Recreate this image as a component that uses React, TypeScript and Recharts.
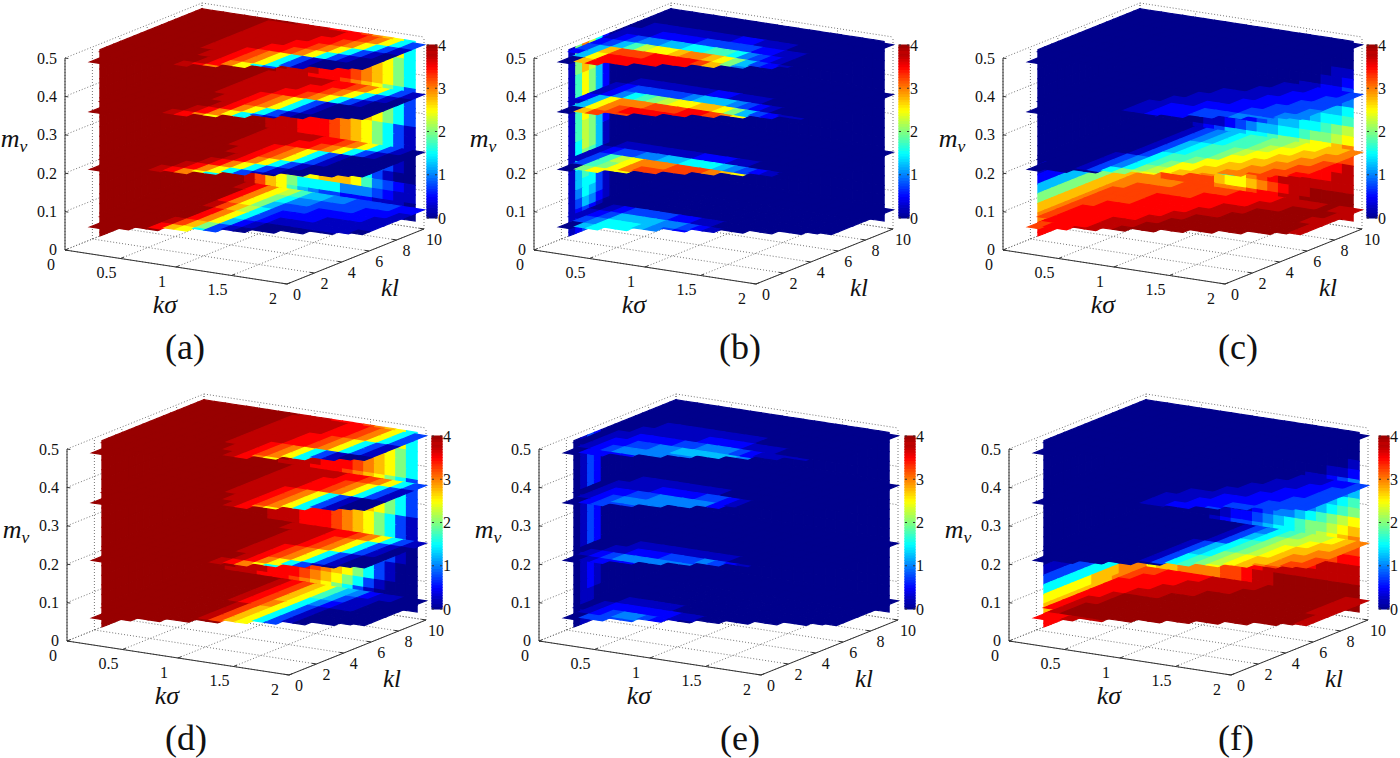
import * as React from "react";
import { ScatterChart, Scatter, XAxis, YAxis } from "recharts";

// tick labels of the three axes and the colour bar
const KSIGMA_TICKS = [0, 0.5, 1, 1.5, 2];
const KL_TICKS = [0, 2, 4, 6, 8, 10];
const MV_TICKS = [0, 0.1, 0.2, 0.3, 0.4, 0.5];
const BAR_TICKS = [0, 1, 2, 3, 4];

// mv height of the four horizontal slices
const SLICE_MV = [0.05, 0.2, 0.35, 0.48];
// first kl that has data in each kσ column (the jagged front edge of the slices)
const FRONT_KL = [2.55, 1, 1.4, 1.4, 1.9, 1.9, 2.4, 2.4, 2.9, 2.9, 3.4, 3.4, 3.9, 3.9, 4.4, 4.4, 4.9, 4.9, 5.3, 5.5];

// Values are written as one letter per cell, in steps of 0.25: 0 = 0, 4 = 1, 8 = 2, c = 3, g = 4.
// A short row repeats its last letter, a short table repeats its last row.
// Slices: first row kl 9-10, last row kl 1-2, columns kσ 0-2.
// Walls: first row mv 0.47, then down in steps of 0.025.
const CODES = "0123456789abcdefg";

const aSlice0 = ["ggggfeca975544333322", "gggggeca864433332221", "gggggeca853332222211", "gggggfdb96322221111", "ggggggeca63211111110", "ggggggeca5210", "gggggfdb8310", "gggggeba63100", "g"];
const aSlice1 = ["ggggggfffffeedca6310", "ggggggffffeedca6310", "ggggggfffedca6310", "gggggggffedca6310", "ggggggggfeca6310", "gggggggfeca6310", "ggggggfeca6310", "gggggfeca6310", "g"];
const aSlice2 = ["ggggggffffffeedca631", "ggggggfffffeedca6310", "ggggggffffeedca6310", "ggggggfffedca6310", "gggggggffedca6310", "ggggggggfeca6310", "gggggggfeca6310", "ggggggfeca6310", "g"];
const aSlice3 = ["ggggggfffffffeedca63", "ggggggffffffeedca631", "ggggggfffffeedca6310", "ggggggffffeedca6310", "ggggggfffedca6310", "gggggggffedca6310", "ggggggggfeca6310", "gggggggfeca6310", "g"];
const aLeft = ["g"];
const aBack = [
  "gggggggggfffeeedcba6", "gggggggggfffeeedcba6", "ggggggggfffeeedcba86", "ggggggggfffeeedcba86", "ggggggggfffeeedcba86",
  "gggggggfffeeedcba863", "gggggggfffeeedcba863", "gggggggfffeeedcba863", "gggggggfffeeedcba863", "ggggggfffeeedcba8631",
  "ggggggfffeeedcba8631", "ggggggfffeeedcba8631", "gggggfffeeedcba86310", "gggggfffeeedcba86310", "ggggfffeeedcba863100",
  "gggggfdb99abbba74321", "ggggfdba866664443211", "ggggfdba754332221110",
];

const bSlice0 = ["0", "0", "0", "0", "0", "012333322110", "1235555443210", "1346665432100", "00566"];
const bSlice1 = ["0", "0", "0", "0", "01111111222110", "12334455666543210", "1379acccdddcba741", "1378acdd", "008aa"];
const bSlice2 = ["0", "0", "0", "011111112211100", "12333334555432100", "1246789aabba85321", "25acccdddeedca731", "15acdeeeee", "00bdd"];
const bSlice3 = ["0", "0", "011111111221110", "11122223333322110", "12344556677643210", "23579aabccba853210", "35bdddeeeedb84210", "25aeeeeeee", "00bee"];
const bLeft = [
  "18c9620", "18b9620", "18b9520", "17a8520", "17a8520", "17a8520", "17a8520", "17a8520", "1798520",
  "1798510", "1698510", "1687510", "1687410", "1576410", "1566310", "1465310", "1354210", "123210",
];
const bBack = ["0"];

const cSlice0 = ["ccccdddddeeeeffffgff", "cddddddeeeeefffggggf", "ddddeeeeeefffgggggff", "ddddeeeeefffgggggggf", "ddeeeeeeffgggggggggf", "deeeeeeffggggggggggf", "deeeefffgggggggg", "deeeeffggg", "cdeef"];
const cSlice1 = ["000001345677889aabbc", "00000134567789aabbcc", "0000013567789aabbccd", "000001356778aabbccdd", "00000136778aabbccdde", "0000134678aabbccddee", "0000134689abbccddeee", "000013689a", "0"];
const cSlice2 = ["00000000000001112223", "00000000000011122233", "00000000001111222333", "00000000011112223334", "00000000111222233344", "000000011222333444", "00000001122233", "0", "0"];
const cSlice3 = ["0"];
const cLeft = ["0", "0", "0", "0", "0", "0", "0", "0", "0", "0", "0", "0", "1", "2", "5", "8", "b", "c", "e"];
const cBack = [
  "0", "0", "0", "00000000000000000011", "00000000000000000112", "00000000000000011223", "00000000000001112334", "00000000001112234556",
  "00000000011223445667", "00000001122345566789", "0000001123455667889a", "0000012355667889aabc", "0001235667889abbccdd",
  "0123567889aabccddeef", "23567889abbccddeeeff", "bbcccc867acdeff", "ccdddddbaabcdeffgggg", "ccdddddcccdeeffggggg", "ddeeeeeeeeefffgggggf",
];

const dSlice0 = ["gggggggfedba75421100", "gggggggfedba7531100", "gggggggfedba6421100", "gggggggfedca6310", "ggggggggfdba6310", "ggggggggfdba6310", "ggggggggfdba6310", "g", "g"];
const dSlice1 = ["ggggggggffffeedca631", "gggggggggfffedca6310", "gggggggggfffedca6310", "gggggggggffedca6310", "gggggggggffedca6310", "ggggggggggfeca6310", "gggggggggfeca6310", "g", "g"];
const dSlice2 = ["ggggggggfffffeedca63", "ggggggggffffeedca631", "ggggggggffffeedca631", "ggggggggfffedca6310", "ggggggggfffedca6310", "gggggggggffedca6310", "ggggggggggfeca6310", "g", "g"];
const dSlice3 = ["ggggggggfffffeedca63", "ggggggggfffffeedca63", "ggggggggffffeedca631", "ggggggggffffeedca631", "ggggggggfffedca6310", "gggggggggffedca6310", "ggggggggggfeca6310", "g", "g"];
const dLeft = ["g"];
const dBack = [
  "gggggggggfffeeedcba6", "gggggggggfffeeedcba6", "ggggggggfffeeedcba86", "ggggggggfffeeedcba86", "ggggggggfffeeedcba86",
  "gggggggfffeeedcba863", "gggggggfffeeedcba863", "gggggggfffeeedcba863", "gggggggfffeeedcba863", "ggggggfffeeedcba8631",
  "ggggggfffeeedcba8631", "ggggggfffeeedcba8631", "gggggfffeeedcba86310", "gggggfffeeedcba86310", "ggggfffeeedcba863100",
  "ggggfffeeedcba863100", "gggfffeeedcba8631000", "ggfffeeedcba86310000",
];

const eSlice0 = ["0", "0", "0", "0", "0", "00111110", "01222222110", "0123443210", "00333"];
const eSlice1 = ["0", "0", "0", "0", "0", "00011111111100", "00112223334321", "01234444", "00122"];
const eSlice2 = ["0", "0", "0", "0", "00111111110", "01111222233210", "01223344444210", "0123444", "00233"];
const eSlice3 = ["0", "0", "0", "0001111111110", "00111111222211100", "011222233444321", "01223344555554310", "01234444", "00222"];
const eLeft = ["01320", "01320", "01320", "01320", "01320", "01320", "01320", "01320", "01320", "01320", "01320", "01320", "01320", "01210", "01210", "01210", "01100"];
const eBack = ["0"];

const fSlice0 = ["ddeeeefffffgggggggff", "deeeefffffggggggggff", "eeeeffffggggggggggff", "eeefffgggggggggggggf", "eefggggggggggggggggf", "effggggggggggggggggf", "efggg", "efgg", "beef"];
const fSlice1 = ["00000000013467899abc", "0000000001356899abbc", "000000000136789abbcc", "000000001356789abccd", "00000000135689abbcdd", "00000000136789abcdde", "0000000013678a", "0", "0"];
const fSlice2 = ["00000000000000111223", "00000000000001112233", "00000000000011122233", "00000000000111222333", "00000000011122223333", "00000000111222333333", "00000000112223", "0", "0"];
const fSlice3 = ["0"];
const fLeft = ["0", "0", "0", "0", "0", "0", "0", "0", "0", "0", "0", "0", "0", "1", "3", "6", "aaaaaaabbbbcccc", "bbbbbbbbbbccccc", "e"];
const fBack = [
  "0", "0", "0", "00000000000000000001", "00000000000000000112", "00000000000000011234", "00000000000000112345", "00000000000001234567",
  "00000000000123445678", "0000000001234456789a", "000000012234567889ab", "00000012334566789abc", "000123456789aabbccd",
  "0123456789aabbccddee", "245689abbccddeeeff", "68abccccdeef", "abbccccddeffg", "abbccccddeffg", "cdddddddeeffg",
];

const PANELS = [
  { name: "(a)", left: 65, top: 250, bar: 362, nameX: 120, slices: [aSlice0, aSlice1, aSlice2, aSlice3], wallL: aLeft, wallB: aBack },
  { name: "(b)", left: 534, top: 250, bar: 365, nameX: 206, slices: [bSlice0, bSlice1, bSlice2, bSlice3], wallL: bLeft, wallB: bBack },
  { name: "(c)", left: 1003, top: 250, bar: 364, nameX: 235, slices: [cSlice0, cSlice1, cSlice2, cSlice3], wallL: cLeft, wallB: cBack },
  { name: "(d)", left: 67, top: 641, bar: 365, nameX: 119, slices: [dSlice0, dSlice1, dSlice2, dSlice3], wallL: dLeft, wallB: dBack },
  { name: "(e)", left: 539, top: 641, bar: 366, nameX: 201, slices: [eSlice0, eSlice1, eSlice2, eSlice3], wallL: eLeft, wallB: eBack },
  { name: "(f)", left: 1009, top: 641, bar: 370, nameX: 227, slices: [fSlice0, fSlice1, fSlice2, fSlice3], wallL: fLeft, wallB: fBack },
];

const X_MIN = -65;
const X_MAX = 395;
const Y_MIN = -250;
const Y_MAX = 120;
const SERIF = "'Liberation Serif'";

// oblique view of the box: kσ runs right and down, kl right and up, mv straight up
function project(ks: number, kl: number, mv: number) {
  return { x: 111 * ks + 13.7 * kl, y: 17 * ks - 5.5 * kl - 384 * mv };
}

function jet(v: number) {
  const t = v / 4;
  const c = (d: number) => Math.round(255 * Math.max(0, Math.min(1, 1.5 - Math.abs(4 * t - d))));
  const red = c(3) + (t > 0.95 ? 24 : 0);
  const blue = c(1) + (t < 0.05 ? 12 : 0);
  return `rgb(${red},${c(2)},${blue})`;
}

function cellAt(rows: string[], r: number, c: number) {
  const row = rows[Math.min(r, rows.length - 1)];
  return CODES.indexOf(row[Math.min(c, row.length - 1)]) / 4;
}

function quad(corners: { x: number; y: number }[], value: number) {
  const x = corners.reduce((a, p) => a + p.x, 0) / corners.length;
  const y = corners.reduce((a, p) => a + p.y, 0) / corners.length;
  return { x, y, fill: jet(value), offsets: corners.map((p) => [p.x - x, p.y - y]) };
}

function sliceCells(rows: string[], mv: number) {
  const out = [];
  for (let r = 0; r < 9; r++) {
    for (let c = 0; c < 20; c++) {
      const hi = 10 - r;
      const lo = Math.max(9 - r, FRONT_KL[c]);
      if (lo >= hi) continue;
      const s0 = c / 10;
      const s1 = (c + 1) / 10;
      out.push(quad([project(s0, lo, mv), project(s1, lo, mv), project(s1, hi, mv), project(s0, hi, mv)], cellAt(rows, r, c)));
    }
  }
  return out;
}

function leftWallCells(rows: string[]) {
  const out = [];
  for (let r = 0; r < 20; r++) {
    for (let c = 0; c < 15; c++) {
      const m1 = 0.485 - r * 0.025;
      const m0 = Math.max(0, m1 - 0.025);
      const k0 = 2.55 + c * 0.5;
      const k1 = Math.min(10, k0 + 0.5);
      out.push(quad([project(0, k0, m0), project(0, k1, m0), project(0, k1, m1), project(0, k0, m1)], cellAt(rows, r, c)));
    }
  }
  return out;
}

function backWallCells(rows: string[]) {
  const out = [];
  for (let r = 0; r < 19; r++) {
    for (let c = 0; c < 20; c++) {
      const m1 = 0.485 - r * 0.025;
      const m0 = Math.max(0.017, m1 - 0.025);
      const s0 = c * 0.096;
      const s1 = s0 + 0.096;
      out.push(quad([project(s0, 10, m0), project(s1, 10, m0), project(s1, 10, m1), project(s0, 10, m1)], cellAt(rows, r, c)));
    }
  }
  return out;
}

function seg(a: { x: number; y: number }, b: { x: number; y: number }) {
  return { x: a.x, y: a.y, dx: b.x - a.x, dy: b.y - a.y };
}

function gridSegments() {
  const out = [];
  for (const s of KSIGMA_TICKS) {
    out.push(seg(project(s, 0, 0), project(s, 10, 0)));
    out.push(seg(project(s, 10, 0), project(s, 10, 0.5)));
  }
  for (const k of KL_TICKS) {
    out.push(seg(project(0, k, 0), project(2, k, 0)));
    out.push(seg(project(0, k, 0), project(0, k, 0.5)));
  }
  for (const m of MV_TICKS) {
    out.push(seg(project(0, 0, m), project(0, 10, m)));
    out.push(seg(project(0, 10, m), project(2, 10, m)));
  }
  return out;
}

function axisSegments() {
  const out = [
    seg(project(0, 0, 0), project(0, 0, 0.5)),
    seg(project(0, 0, 0), project(2, 0, 0)),
    seg(project(2, 0, 0), project(2, 10, 0)),
  ];
  for (const m of MV_TICKS) out.push(seg(project(0, 0, m), project(0.03, 0, m)));
  for (const s of KSIGMA_TICKS) out.push(seg(project(s, 0, 0), project(s, 0.25, 0)));
  for (const k of KL_TICKS) out.push(seg(project(2, k, 0), project(1.96, k, 0)));
  return out;
}

function CellShape({ cx, cy, payload }: any) {
  const pts = payload.offsets.map((o: number[]) => `${cx + o[0]},${cy + o[1]}`).join(" ");
  return <polygon points={pts} fill={payload.fill} stroke={payload.fill} strokeWidth={1.2} />;
}

function DottedShape({ cx, cy, payload }: any) {
  return <line x1={cx} y1={cy} x2={cx + payload.dx} y2={cy + payload.dy} stroke="#666" strokeWidth={0.9} strokeDasharray="1 2" />;
}

function SolidShape({ cx, cy, payload }: any) {
  return <line x1={cx} y1={cy} x2={cx + payload.dx} y2={cy + payload.dy} stroke="#333" strokeWidth={1} />;
}

function TextShape({ cx, cy, payload }: any) {
  return (
    <text
      x={cx}
      y={cy}
      style={{ fontFamily: SERIF }}
      fontStyle={payload.italic ? "italic" : "normal"}
      fontSize={payload.size}
      fill="#111"
      textAnchor={payload.anchor || "middle"}
      dominantBaseline="central"
    >
      {payload.text}
      {payload.sub ? (
        <tspan fontSize={payload.size * 0.68} dy={8}>
          {payload.sub}
        </tspan>
      ) : null}
    </text>
  );
}

function Panel({ panel }: { panel: (typeof PANELS)[number] }) {
  const barX = panel.bar;
  const barY = (v: number) => -32 - 43.25 * v;
  const barCells = Array.from({ length: 64 }, (_, i) => {
    const v0 = (i / 64) * 4;
    const v1 = ((i + 1) / 64) * 4;
    return quad(
      [
        { x: barX, y: barY(v0) },
        { x: barX + 10, y: barY(v0) },
        { x: barX + 10, y: barY(v1) },
        { x: barX, y: barY(v1) },
      ],
      (v0 + v1) / 2
    );
  });
  const barMarks = BAR_TICKS.flatMap((v) => [
    seg({ x: barX, y: barY(v) }, { x: barX + 2, y: barY(v) }),
    seg({ x: barX + 8, y: barY(v) }, { x: barX + 10, y: barY(v) }),
  ]);

  const labels = [
    ...MV_TICKS.map((m) => ({ x: -8, y: project(0, 0, m).y - (m === 0 ? 1 : 0), text: String(m), size: 16, anchor: "end" })),
    ...KSIGMA_TICKS.map((s) => {
      const p = project(s, 0, 0);
      return { x: p.x - 14, y: p.y + 14, text: String(s), size: 16 };
    }),
    ...KL_TICKS.map((k) => {
      const p = project(2, k, 0);
      return { x: p.x + 10, y: p.y + 10, text: String(k), size: 16 };
    }),
    ...BAR_TICKS.map((v) => ({ x: barX + 11, y: barY(v), text: String(v), size: 16, anchor: "start" })),
    { x: 100, y: 54, text: "kσ", size: 26, italic: true },
    { x: 325, y: 37, text: "kl", size: 25, italic: true },
    { x: -51, y: -112, text: "m", sub: "v", size: 26, italic: true },
    { x: panel.nameX, y: 97, text: panel.name, size: 36 },
  ];

  return (
    <div style={{ position: "absolute", left: panel.left + X_MIN, top: panel.top + Y_MIN }}>
      <ScatterChart width={X_MAX - X_MIN} height={Y_MAX - Y_MIN} margin={{ top: 0, right: 0, bottom: 0, left: 0 }}>
        <XAxis type="number" dataKey="x" domain={[X_MIN, X_MAX]} allowDataOverflow hide />
        <YAxis type="number" dataKey="y" domain={[Y_MIN, Y_MAX]} allowDataOverflow reversed hide />
        <Scatter data={gridSegments()} shape={DottedShape} isAnimationActive={false} />
        <Scatter data={axisSegments()} shape={SolidShape} isAnimationActive={false} />
        <Scatter data={backWallCells(panel.wallB)} shape={CellShape} isAnimationActive={false} />
        <Scatter data={leftWallCells(panel.wallL)} shape={CellShape} isAnimationActive={false} />
        {panel.slices.map((rows, i) => (
          <Scatter key={i} data={sliceCells(rows, SLICE_MV[i])} shape={CellShape} isAnimationActive={false} />
        ))}
        <Scatter data={barCells} shape={CellShape} isAnimationActive={false} />
        <Scatter data={barMarks} shape={SolidShape} isAnimationActive={false} />
        <Scatter data={labels} shape={TextShape} isAnimationActive={false} />
      </ScatterChart>
    </div>
  );
}

export default function App() {
  return (
    <div style={{ position: "fixed", left: 0, top: 0, width: 1400, height: 758, overflow: "hidden", background: "#fff" }}>
      {PANELS.map((p) => (
        <Panel key={p.name} panel={p} />
      ))}
    </div>
  );
}
